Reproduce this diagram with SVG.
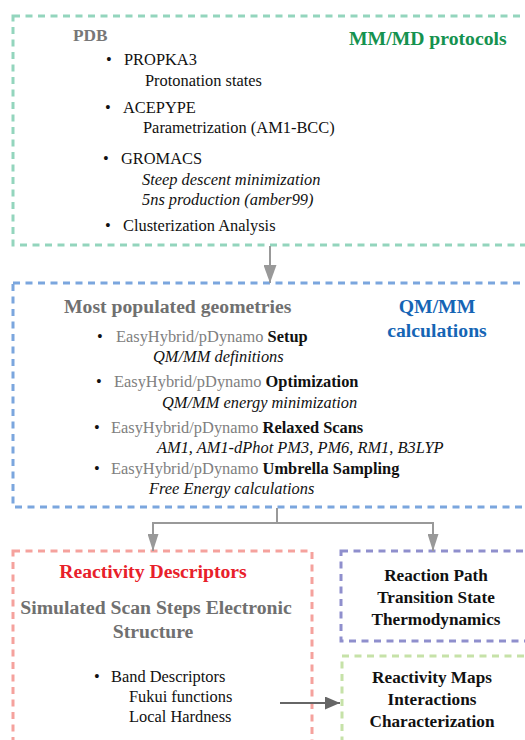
<svg xmlns="http://www.w3.org/2000/svg" width="525" height="740" viewBox="0 0 525 740">
<style>
text{font-family:"Liberation Serif","Times New Roman",serif;font-size:16.4px;fill:#111}
.b{font-weight:bold}
.i{font-style:italic}
.g{fill:#808080}
.hd{font-weight:bold;font-size:19.7px}
.box{fill:none;stroke-width:3;stroke-dasharray:7 5.5}
.c{text-anchor:middle}
.t17{font-size:17.2px;font-weight:bold}
.conn{fill:none;stroke:#999;stroke-width:2}
</style>
<defs>
<marker id="ah" markerWidth="18" markerHeight="13" refX="18" refY="6.5" orient="auto" markerUnits="userSpaceOnUse"><path d="M0,0 L18,6.5 L0,13 z" fill="#999"/></marker>
<marker id="ah2" markerWidth="17" markerHeight="11" refX="17" refY="5.5" orient="auto" markerUnits="userSpaceOnUse"><path d="M0,0 L17,5.5 L0,11 z" fill="#999"/></marker>
<marker id="ahd" markerWidth="15" markerHeight="13" refX="15" refY="6.5" orient="auto" markerUnits="userSpaceOnUse"><path d="M0,0 L15,6.5 L0,13 z" fill="#666"/></marker>
</defs>
<rect width="525" height="740" fill="#fff"/>

<g id="mmmd">
<rect class="box" x="13" y="16" width="530" height="229" stroke="#93d5bd"/>
<text x="73" y="41" style="font-size:17.3px;font-weight:bold;fill:#777">PDB</text>
<text x="349" y="45" class="hd" style="fill:#15924f">MM/MD protocols</text>
<text x="106" y="65">•</text><text x="124" y="65">PROPKA3</text>
<text x="145" y="86">Protonation states</text>
<text x="105" y="113">•</text><text x="123" y="113">ACEPYPE</text>
<text x="143" y="133">Parametrization (AM1-BCC)</text>
<text x="103" y="164">•</text><text x="121" y="164">GROMACS</text>
<text x="142" y="185" class="i">Steep descent minimization</text>
<text x="142" y="205" class="i">5ns production (amber99)</text>
<text x="105" y="231">•</text><text x="123" y="231">Clusterization Analysis</text>
</g>

<g id="qmmm">
<rect class="box" x="13" y="283" width="530" height="224" stroke="#7ba6de"/>
<text x="64" y="313" class="hd" style="fill:#707070">Most populated geometries</text>
<text x="437" y="313" class="hd c" style="fill:#1565b5">QM/MM</text>
<text x="437" y="337" class="hd c" style="fill:#1565b5">calculations</text>
<text x="97" y="342">•</text><text x="116" y="342"><tspan class="g">EasyHybrid/pDynamo</tspan> <tspan class="b">Setup</tspan></text>
<text x="153" y="362" class="i">QM/MM definitions</text>
<text x="96" y="387">•</text><text x="114" y="387"><tspan class="g">EasyHybrid/pDynamo</tspan> <tspan class="b">Optimization</tspan></text>
<text x="162" y="408" class="i">QM/MM energy minimization</text>
<text x="94" y="433">•</text><text x="111" y="433"><tspan class="g">EasyHybrid/pDynamo</tspan> <tspan class="b">Relaxed Scans</tspan></text>
<text x="157" y="453" class="i">AM1, AM1-dPhot PM3, PM6, RM1, B3LYP</text>
<text x="94" y="474">•</text><text x="111" y="474"><tspan class="g">EasyHybrid/pDynamo</tspan> <tspan class="b">Umbrella Sampling</tspan></text>
<text x="149" y="494" class="i">Free Energy calculations</text>
</g>

<g id="reactivity">
<rect class="box" x="13" y="551" width="299" height="210" stroke="#f5a29d"/>
<text x="153" y="578" class="hd c" style="fill:#e8202a">Reactivity Descriptors</text>
<text x="156" y="614" class="hd c" style="fill:#707070">Simulated Scan Steps Electronic</text>
<text x="153" y="638" class="hd c" style="fill:#707070">Structure</text>
<text x="94" y="682">•</text><text x="111" y="682">Band Descriptors</text>
<text x="129" y="702">Fukui functions</text>
<text x="129" y="722">Local Hardness</text>
</g>

<g id="path">
<rect class="box" x="341" y="551" width="200" height="90" stroke="#8f8fcd"/>
<text x="436" y="581" class="t17 c">Reaction Path</text>
<text x="436" y="603" class="t17 c">Transition State</text>
<text x="436" y="625" class="t17 c">Thermodynamics</text>
</g>

<g id="maps">
<rect class="box" x="342" y="656" width="200" height="100" stroke="#c6e2a8"/>
<text x="432" y="683" class="t17 c">Reactivity Maps</text>
<text x="432" y="705" class="t17 c">Interactions</text>
<text x="432" y="727" class="t17 c">Characterization</text>
</g>

<g id="connectors">
<path class="conn" d="M270,246 V283" marker-end="url(#ah)"/>
<path class="conn" d="M277,508 V523 H153 V551" marker-end="url(#ah2)"/>
<path class="conn" d="M277,523 H433 V551" marker-end="url(#ah2)"/>
<path d="M280,703 H340" fill="none" stroke="#666" stroke-width="2" marker-end="url(#ahd)"/>
</g>
</svg>
